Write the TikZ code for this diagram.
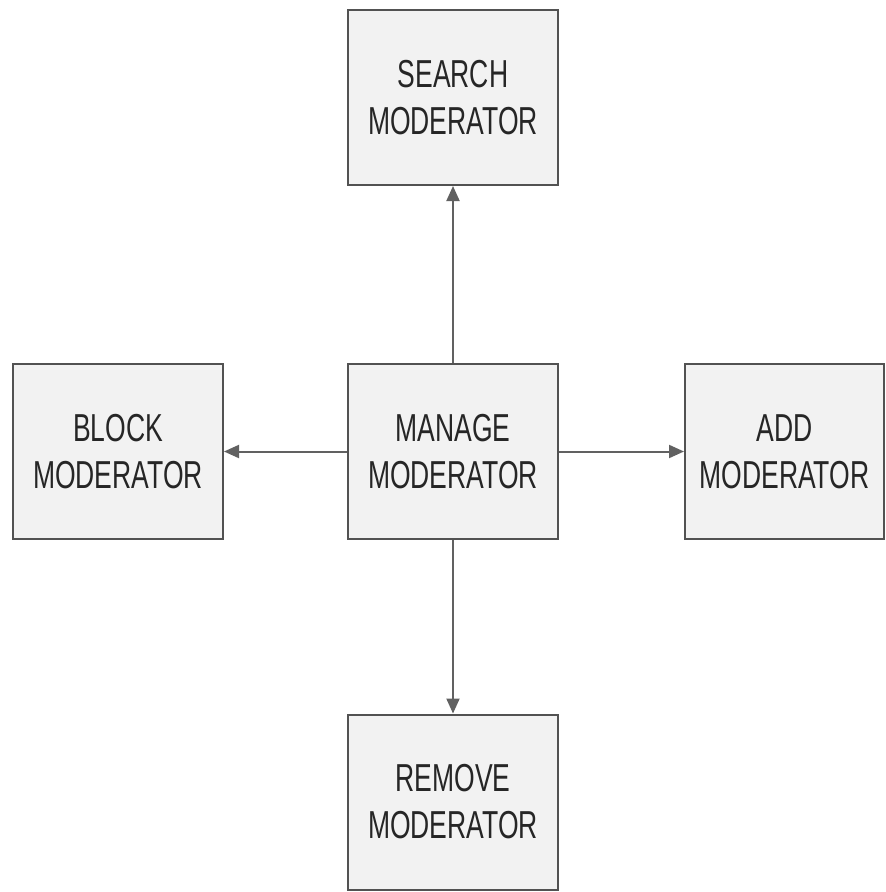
\documentclass[tikz,border=0pt]{standalone}
\usepackage{fontspec}
\setmainfont{Liberation Sans}[FakeStretch=0.68]
\usetikzlibrary{arrows.meta}
\begin{document}
\begin{tikzpicture}[x=1pt,y=-1pt,
  modbox/.style={draw=black!68, line width=2pt, fill=black!5,
    minimum width=210pt, minimum height=175pt, inner sep=0pt,
    align=center, text=black!85,
    font=\fontsize{39pt}{47pt}\selectfont},
  link/.style={draw=black!62, line width=2pt,
    -{Triangle[length=15pt,width=13pt]}}]
  \useasboundingbox (0,0) rectangle (886,892);
  \fill[white] (0,0) rectangle (886,892);
  \node[modbox] (search) at (453,97.5) {SEARCH\\MODERATOR};
  \node[modbox] (block)  at (118,451.5) {BLOCK\\MODERATOR};
  \node[modbox] (manage) at (453,451.5) {MANAGE\\MODERATOR};
  \node[modbox, minimum width=199pt] (add) at (784.5,451.5) {ADD\\MODERATOR};
  \node[modbox] (remove) at (453,802) {REMOVE\\MODERATOR};
  \draw[link] (manage) -- (search);
  \draw[link] (manage) -- (block);
  \draw[link] (manage) -- (add);
  \draw[link] (manage) -- (remove);
\end{tikzpicture}
\end{document}
